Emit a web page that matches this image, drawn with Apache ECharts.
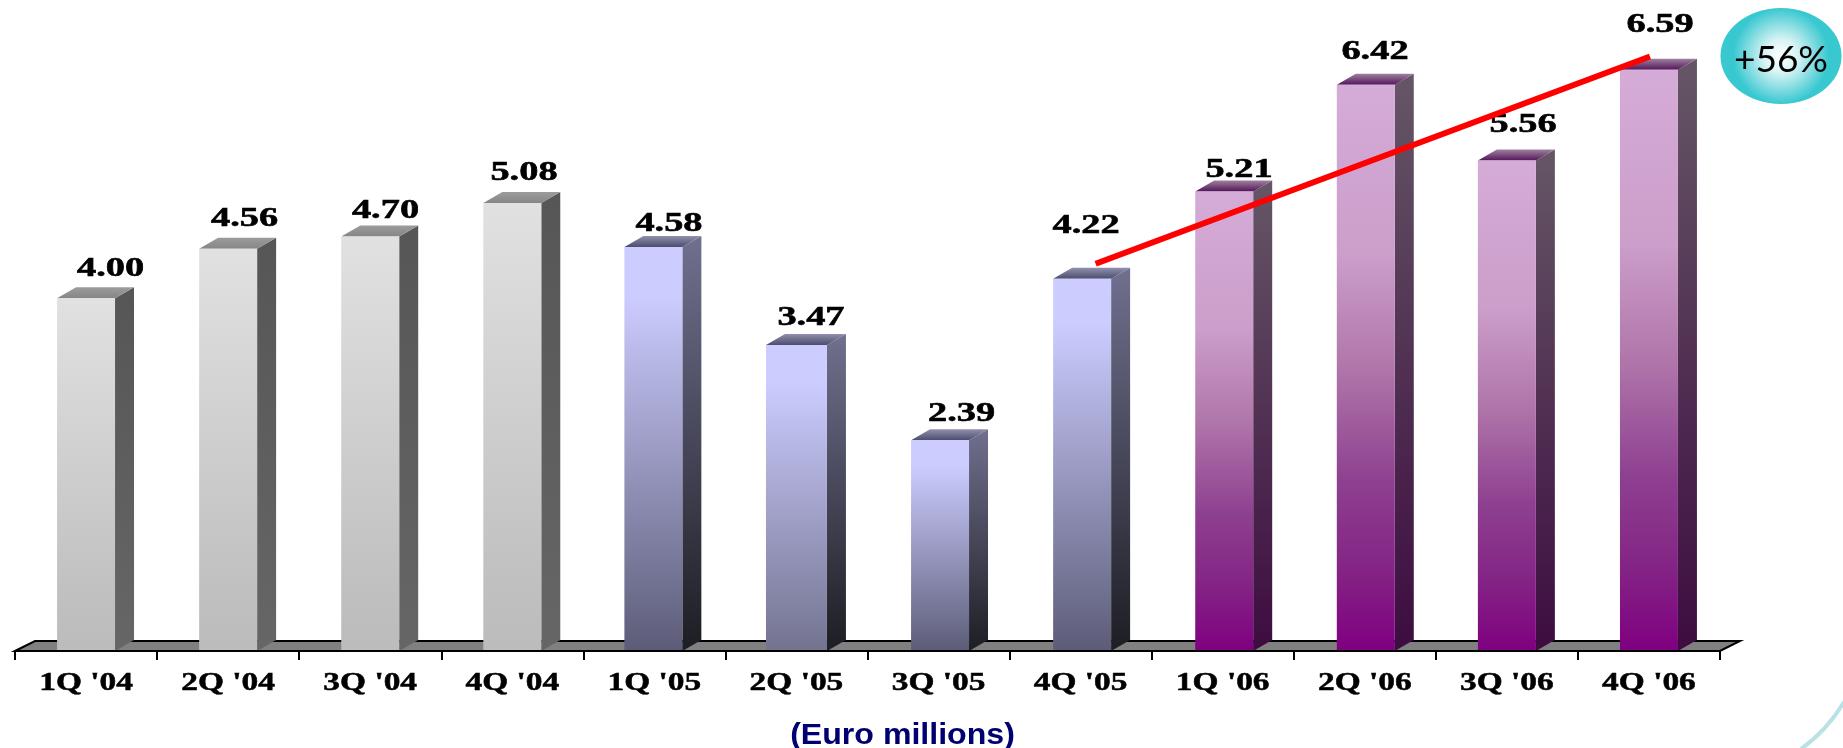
<!DOCTYPE html>
<html>
<head>
<meta charset="utf-8">
<style>
  html, body { margin: 0; padding: 0; background: #fff; }
  #chart { width: 1843px; height: 748px; }
</style>
<script src="https://cdn.jsdelivr.net/npm/echarts@6/dist/echarts.min.js"></script>
</head>
<body>
<div id="chart"></div>
<script>
// Quarterly figures, Euro millions
const categories = ["1Q '04", "2Q '04", "3Q '04", "4Q '04", "1Q '05", "2Q '05", "3Q '05", "4Q '05", "1Q '06", "2Q '06", "3Q '06", "4Q '06"];
const values = [4.00, 4.56, 4.70, 5.08, 4.58, 3.47, 2.39, 4.22, 5.21, 6.42, 5.56, 6.59];

// Where each value label sits relative to its bar's top (pixels right, pixels up)
const labelShiftX = [24.5, 16.4, 15.3, 11.7, 14.6, 14.5, 23, 5.4, 16.3, 10.2, 16.2, 11.1];
const labelShiftY = [21, 22, 18, 22, 15.5, 19.5, 18, 45, 14, 25, 27.6, 36.8];

// Hand placement of individual bars within their bands, in pixels
const barNudgeX = [0, 0, 0, 0, -1, 0, 1.5, 1.5, 1.5, 1, 0, 0];
const barExtraWidth = [0, 0, 0, 0, 0, 3, 0, 0, 0, 0, 0, 0];

// Growth line runs from just above 4Q '05 to just above 4Q '06
const trendCategories = [7, 11];
const trendLevels = [4.39, 6.74];
const trendShiftX = [15, 1];
const growthText = '+56%';

const DEPTH_X = 19;
const DEPTH_Y = 11;
const BAR_RATIO = 0.408;

const grad = (stops) => new echarts.graphic.LinearGradient(0, 0, 0, 1,
  stops.map(([offset, color]) => ({ offset, color })));

// One colour set per year
const palettes = {
  "'04": {
    front: [[0, '#e1e1e1'], [0.85, '#c0c0c0'], [1, '#bcbcbc']],
    side: [[0, '#565656'], [1, '#666666']],
    top: [[0, '#9c9c9c'], [1, '#868686']]
  },
  "'05": {
    front: [[0, '#ccccff'], [0.12, '#ccccff'], [1, '#5c5c78']],
    side: [[0, '#70708f'], [1, '#1d1d23']],
    top: [[0, '#9090ae'], [1, '#4c4c6c']]
  },
  "'06": {
    front: [[0, '#d5abd7'], [0.3, '#cc9eca'], [0.5, '#b076aa'], [0.7, '#8e4090'], [0.85, '#842585'], [1, '#7f0080']],
    side: [[0, '#655666'], [1, '#3d0c40']],
    top: [[0, '#9f809f'], [1, '#521659']]
  }
};

// The 2Q '05 bar fades to a lighter foot than the rest of its year
const frontFootOverride = { 5: '#737390' };

const poly = (points, fill) => ({ type: 'polygon', shape: { points }, style: { fill } });

function renderBar(params, api) {
  const i = api.value(0);
  const value = api.value(1);
  const cat = categories[i];
  const pal = palettes[cat.slice(cat.indexOf("'"))];
  const [cx, top] = api.coord([i, value]);
  const [, base] = api.coord([i, 0]);
  const half = (api.size([1, 0])[0] * BAR_RATIO + barExtraWidth[i]) / 2;
  const x0 = cx + barNudgeX[i] - half;
  const x1 = cx + barNudgeX[i] + half;
  let frontStops = pal.front;
  if (frontFootOverride[i]) {
    frontStops = pal.front.slice(0, -1).concat([[1, frontFootOverride[i]]]);
  }
  return {
    type: 'group',
    children: [
      poly([[x1, top], [x1 + DEPTH_X, top - DEPTH_Y], [x1 + DEPTH_X, base - DEPTH_Y], [x1, base]], grad(pal.side)),
      poly([[x0, top], [x1, top], [x1 + DEPTH_X, top - DEPTH_Y], [x0 + DEPTH_X, top - DEPTH_Y]], grad(pal.top)),
      poly([[x0, top], [x1, top], [x1, base], [x0, base]], grad(frontStops)),
      {
        type: 'text', x: cx + labelShiftX[i], y: top - labelShiftY[i] + 6, scaleX: 1.37,
        style: {
          text: value.toFixed(2), fill: '#000', stroke: '#000', lineWidth: 0.6,
          textAlign: 'center', textVerticalAlign: 'bottom',
          font: 'bold 28px "Liberation Serif"'
        }
      },
      {
        type: 'text', x: cx, y: base + 32.5, scaleX: 1.31,
        style: {
          text: cat, fill: '#000', stroke: '#000', lineWidth: 0.5,
          textAlign: 'center', textVerticalAlign: 'middle',
          font: 'bold 25.5px "Liberation Serif"'
        }
      }
    ]
  };
}

function renderFloor(params, api) {
  const cs = params.coordSys;
  const left = cs.x;
  const right = cs.x + cs.width;
  const base = cs.y + cs.height;
  const back = base - 10;
  const pts = [[left, base], [left + 20, back], [right + 20, back], [right, base]];
  return {
    type: 'polygon',
    shape: { points: pts },
    style: { fill: '#808080', stroke: '#000', lineWidth: 2 }
  };
}

function renderTrend(params, api) {
  const a = api.coord([trendCategories[0], trendLevels[0]]);
  const b = api.coord([trendCategories[1], trendLevels[1]]);
  return {
    type: 'line',
    shape: { x1: a[0] + trendShiftX[0], y1: a[1], x2: b[0] + trendShiftX[1], y2: b[1] },
    style: { stroke: '#ff0000', lineWidth: 6, lineCap: 'butt' }
  };
}

const chart = echarts.init(document.getElementById('chart'), null, { renderer: 'canvas' });
chart.setOption({
  animation: false,
  backgroundColor: '#ffffff',
  grid: { left: 15, right: 123, top: 33.6, bottom: 97 },
  xAxis: {
    type: 'category',
    data: categories,
    boundaryGap: true,
    z: 6,
    axisLine: { lineStyle: { color: '#000', width: 2 } },
    axisTick: { show: true, alignWithLabel: false, length: 9, lineStyle: { color: '#000', width: 2 } },
    axisLabel: { show: false },
    splitLine: { show: false }
  },
  yAxis: { type: 'value', min: 0, max: 7, show: false },
  series: [
    { type: 'custom', name: 'floor', z: 1, silent: true, clip: false, renderItem: renderFloor, data: [[0, 0]] },
    {
      type: 'custom', name: 'Euro millions', z: 3, silent: true, clip: false,
      renderItem: renderBar, encode: { x: 0, y: 1 },
      data: values.map((v, i) => [i, v])
    },
    { type: 'custom', name: 'growth', z: 8, silent: true, clip: false, renderItem: renderTrend, data: [[0, 0]] }
  ],
  graphic: [
    {
      type: 'ellipse', silent: true, z: 10,
      shape: { cx: 1781, cy: 56, rx: 60.5, ry: 48 },
      style: {
        fill: new echarts.graphic.RadialGradient(0.5, 0.5, 0.5, [
          { offset: 0, color: '#ffffff' },
          { offset: 0.35, color: '#d8f3f4' },
          { offset: 1, color: '#38c8d0' }
        ])
      }
    },
    {
      type: 'text', silent: true, z: 11, x: 1781, y: 60,
      style: {
        text: growthText, fill: '#000', textAlign: 'center', textVerticalAlign: 'middle',
        font: '37px Lato'
      }
    },
    {
      type: 'text', silent: true, z: 11, x: 902.5, y: 735.5, scaleX: 1.07,
      style: {
        text: '(Euro millions)', fill: '#000070', textAlign: 'center', textVerticalAlign: 'middle',
        font: 'bold 30px "Liberation Sans"'
      }
    },
    {
      type: 'bezierCurve', silent: true, z: 2,
      shape: { x1: 1801, y1: 749, cpx1: 1815, cpy1: 739, cpx2: 1832, cpy2: 722, x2: 1844, y2: 702 },
      style: { stroke: '#b9e2e6', lineWidth: 4, fill: 'none' }
    }
  ]
});
</script>
</body>
</html>
